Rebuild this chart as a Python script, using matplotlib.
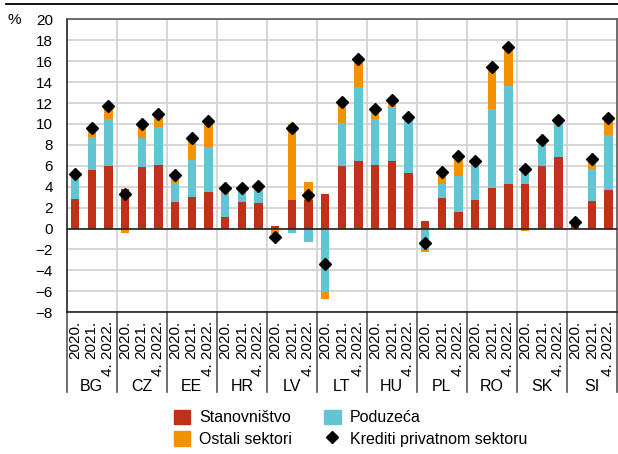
import matplotlib
matplotlib.use('Agg')
import matplotlib.pyplot as plt
from matplotlib.lines import Line2D
from matplotlib.patches import Patch
import numpy as np

plt.rcParams['font.family'] = ['Liberation Sans Narrow', 'Liberation Sans', 'DejaVu Sans']
plt.rcParams['font.size'] = 11

countries = ['BG', 'CZ', 'EE', 'HR', 'LV', 'LT', 'HU', 'PL', 'RO', 'SK', 'SI']
periods = ['2020.', '2021.', '4. 2022.']

# doprinosi po sektorima (postotni bodovi)
stanovnistvo = [2.8, 5.6, 6.0,   3.75, 5.85, 6.05,  2.5, 3.0, 3.5,   1.13, 2.56, 2.47,
                0.25, 2.72, 2.72, 3.3, 6.0, 6.45,   6.07, 6.42, 5.3,  0.75, 2.95, 1.55,
                2.7, 3.9, 4.28,  4.28, 5.95, 6.87,  0.32, 2.66, 3.71]
poduzeca = [2.45, 3.15, 4.45,  0.0, 2.8, 3.62,   1.82, 3.6, 4.28,   2.14, 0.9, 1.45,
            -0.1, -0.46, -1.28, -6.05, 4.06, 7.08, 4.4, 5.23, 5.2,  -1.99, 1.33, 3.44,
            3.3, 7.49, 9.31,  1.41, 2.13, 3.19,  0.0, 3.03, 5.26]
ostali = [0.0, 0.88, 1.23,  -0.45, 1.32, 1.3,   0.6, 2.1, 2.5,   0.58, 0.38, 0.05,
          -0.4, 7.3, 1.72,  -0.65, 2.05, 2.65,  0.8, 0.55, 0.15,  -0.23, 1.08, 1.9,
          0.42, 4.05, 3.72,  -0.24, -0.05, 0.2,  0.0, 0.72, 1.58]
krediti = [5.2, 9.6, 11.7,  3.3, 9.95, 10.95,  5.1, 8.65, 10.3,  3.85, 3.85, 4.05,
           -0.8, 9.6, 3.2,  -3.4, 12.1, 16.2,  11.4, 12.3, 10.7,  -1.42, 5.4, 6.93,
           6.5, 15.45, 17.35,  5.7, 8.43, 10.34,  0.6, 6.65, 10.6]

red = '#c0311a'
cyan = '#63c4d3'
orange = '#f39200'
grid_col = '#d0d0d0'

fig = plt.figure(figsize=(6.18, 4.54), dpi=100)
ax = fig.add_axes([0.108, 0.3123, 0.89, 0.645])

x = np.arange(len(krediti))
pos = np.zeros(len(x))
neg = np.zeros(len(x))
for vals, col in [(stanovnistvo, red), (poduzeca, cyan), (ostali, orange)]:
    v = np.array(vals)
    bottom = np.where(v >= 0, pos, neg)
    ax.bar(x, v, 0.5, bottom=bottom, color=col, linewidth=0, zorder=3)
    pos = pos + np.where(v > 0, v, 0)
    neg = neg + np.where(v < 0, v, 0)

ax.plot(x, krediti, linestyle='none', marker='D', markersize=5.8, color='black', zorder=5)

ax.set_xlim(-0.5, len(x) - 0.5)
ax.set_ylim(-8, 20)
ax.set_yticks(np.arange(-8, 21, 2))
ax.yaxis.grid(True, color=grid_col, linewidth=1.2, zorder=0)
ax.axhline(0, color='#222222', linewidth=1.2, zorder=4)

bounds = np.arange(len(countries) + 1) * len(periods) - 0.5
ax.set_xticks(bounds[1:-1], minor=True)
ax.xaxis.grid(True, which='minor', color=grid_col, linewidth=1.2, zorder=0)
ax.set_xticks(x)
ax.set_xticklabels(periods * len(countries), rotation=90, va='top', ha='center')
ax.tick_params(axis='x', which='both', length=0, pad=6)
ax.tick_params(axis='y', length=0, pad=10)

for s in ['left', 'bottom']:
    ax.spines[s].set_color('#222222')
    ax.spines[s].set_linewidth(1.2)
for s in ['top', 'right']:
    ax.spines[s].set_color('#555555')
    ax.spines[s].set_linewidth(1.2)

# separatori i nazivi grupa ispod osi
trans = ax.get_xaxis_transform()
for b in bounds:
    ax.plot([b, b], [0, -0.272], transform=trans, color='#555555', linewidth=1.2, clip_on=False)
for i, c in enumerate(countries):
    ax.text(i * len(periods) + 1, -0.254, c, transform=trans, ha='center', va='center', fontsize=11.5)

fig.add_artist(Line2D([0.01, 1.0], [0.9905, 0.9905], color='black', linewidth=1.3))
fig.text(0.012, 0.955, '%', fontsize=11, va='center')

handles = [Patch(color=red), Patch(color=orange), Patch(color=cyan),
           Line2D([], [], linestyle='none', marker='D', markersize=5.8, color='black')]
labels = ['Stanovništvo', 'Ostali sektori', 'Poduzeća', 'Krediti privatnom sektoru']
fig.legend(handles, labels, ncol=2, loc='upper left', bbox_to_anchor=(0.281, 0.098),
           frameon=False, borderpad=0, borderaxespad=0, handlelength=1.05, handleheight=1.05,
           handletextpad=0.55, labelspacing=0.35, columnspacing=2.0, fontsize=11.5)

fig.savefig('out.png', dpi=100)
